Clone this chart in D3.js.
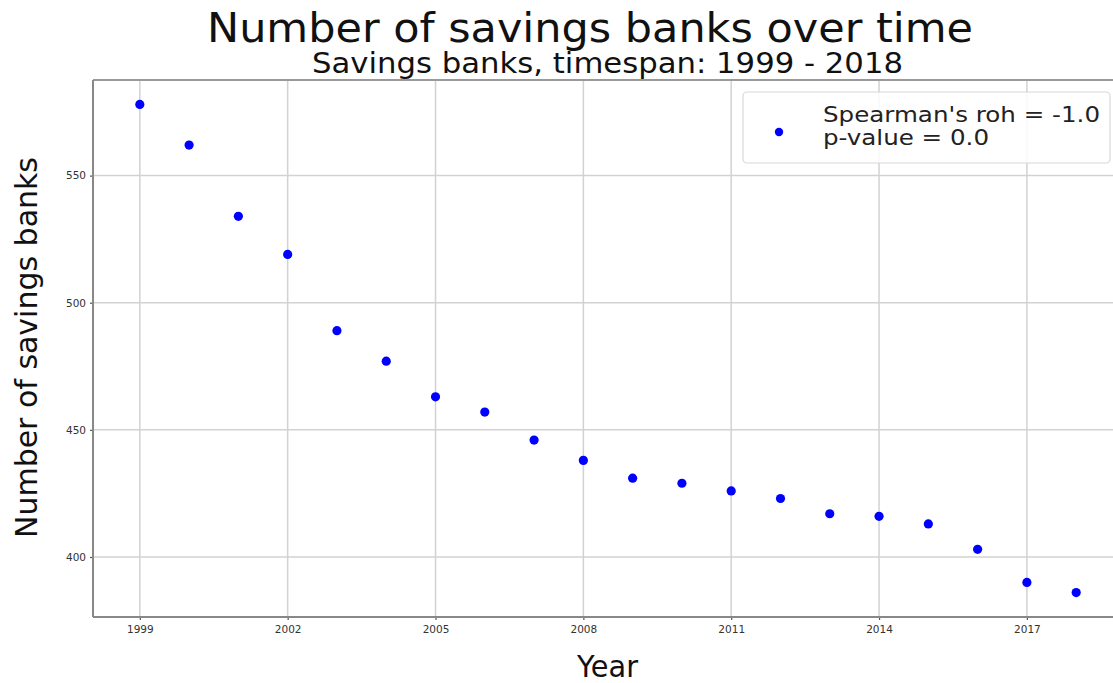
<!DOCTYPE html>
<html>
<head>
<meta charset="utf-8">
<script src="https://cdn.jsdelivr.net/npm/d3@7"></script>
<style>
  html, body { margin: 0; padding: 0; background: #fff; }
  svg { display: block; font-family: "DejaVu Sans", sans-serif; }
</style>
</head>
<body>
<svg id="chart" width="1113" height="683"></svg>
<script>
// Number of savings banks per year
const years = [1999, 2000, 2001, 2002, 2003, 2004, 2005, 2006, 2007, 2008,
               2009, 2010, 2011, 2012, 2013, 2014, 2015, 2016, 2017, 2018];
const banks = [578, 562, 534, 519, 489, 477, 463, 457, 446, 438,
               431, 429, 426, 423, 417, 416, 413, 403, 390, 386];
const xTicks = [1999, 2002, 2005, 2008, 2011, 2014, 2017];
const yTicks = [400, 450, 500, 550];
const legendLines = ["Spearman's roh = -1.0", "p-value = 0.0"];

const svg = d3.select("#chart");

// Plot frame (right edge runs past the canvas)
const plotL = 93, plotR = 1123, plotT = 80, plotB = 617;

// 5% padding around the data range
const xExt = d3.extent(years), yExt = d3.extent(banks);
const xPad = (xExt[1] - xExt[0]) * 0.05, yPad = (yExt[1] - yExt[0]) * 0.05;
const x = d3.scaleLinear().domain([xExt[0] - xPad, xExt[1] + xPad]).range([plotL, plotR]);
const y = d3.scaleLinear().domain([yExt[0] - yPad, yExt[1] + yPad]).range([plotB, plotT]);

// Grid
const grid = svg.append("g");
grid.selectAll("line.gx").data(xTicks).join("line").attr("class", "gx")
  .attr("x1", d => x(d)).attr("x2", d => x(d))
  .attr("y1", plotT).attr("y2", plotB)
  .attr("stroke", "#d2d2d2").attr("stroke-width", 1.5);
grid.selectAll("line.gy").data(yTicks).join("line").attr("class", "gy")
  .attr("x1", plotL).attr("x2", plotR)
  .attr("y1", d => y(d)).attr("y2", d => y(d))
  .attr("stroke", "#d2d2d2").attr("stroke-width", 1.5);

// Axes
const xAxis = svg.append("g").attr("transform", `translate(0,${plotB})`)
  .call(d3.axisBottom(x).tickValues(xTicks).tickFormat(d3.format("d")).tickSize(3).tickPadding(6));
const yAxis = svg.append("g").attr("transform", `translate(${plotL},0)`)
  .call(d3.axisLeft(y).tickValues(yTicks).tickFormat(d3.format("d")).tickSize(3).tickPadding(4));
[xAxis, yAxis].forEach(a => {
  a.select(".domain").remove();
  a.selectAll(".tick line").attr("stroke", "#555").attr("stroke-width", 1.2);
  a.selectAll(".tick text").attr("fill", "#333").attr("font-size", 10.5)
    .attr("font-family", "DejaVu Sans, sans-serif");
});

// Spines: top, left, bottom
svg.append("line").attr("x1", plotL).attr("x2", plotR).attr("y1", plotT).attr("y2", plotT)
  .attr("stroke", "#999").attr("stroke-width", 2);
svg.append("line").attr("x1", plotL).attr("x2", plotL).attr("y1", plotT).attr("y2", plotB)
  .attr("stroke", "#888").attr("stroke-width", 2);
svg.append("line").attr("x1", plotL).attr("x2", plotR).attr("y1", plotB).attr("y2", plotB)
  .attr("stroke", "#888").attr("stroke-width", 2);

// Points
svg.append("g").selectAll("circle").data(years).join("circle")
  .attr("cx", d => x(d)).attr("cy", (d, i) => y(banks[i]))
  .attr("r", 4.6).attr("fill", "#0000ff");

// Titles
svg.append("text").attr("x", 207).attr("y", 42)
  .attr("font-size", 40).attr("fill", "#111")
  .attr("textLength", 766).attr("lengthAdjust", "spacingAndGlyphs")
  .text("Number of savings banks over time");
svg.append("text").attr("x", 312).attr("y", 73)
  .attr("font-size", 28).attr("fill", "#111")
  .attr("textLength", 591).attr("lengthAdjust", "spacingAndGlyphs")
  .text("Savings banks, timespan: 1999 - 2018");

// Axis labels
svg.append("text").attr("x", 577).attr("y", 677)
  .attr("font-size", 30).attr("fill", "#111")
  .attr("textLength", 61).attr("lengthAdjust", "spacingAndGlyphs")
  .text("Year");
svg.append("text")
  .attr("transform", "translate(37,538) rotate(-90)")
  .attr("font-size", 30).attr("fill", "#111")
  .attr("textLength", 381).attr("lengthAdjust", "spacingAndGlyphs")
  .text("Number of savings banks");

// Legend
const lg = svg.append("g");
lg.append("rect").attr("x", 743).attr("y", 92).attr("width", 367).attr("height", 71)
  .attr("rx", 4).attr("fill", "#fff").attr("fill-opacity", 0.85)
  .attr("stroke", "#d8d8d8").attr("stroke-width", 1.2);
lg.append("circle").attr("cx", 779).attr("cy", 132).attr("r", 4.2).attr("fill", "#0000ff");
lg.selectAll("text").data(legendLines).join("text")
  .attr("x", 823).attr("y", (d, i) => 122 + i * 23)
  .attr("font-size", 22).attr("fill", "#222")
  .attr("textLength", (d, i) => i === 0 ? 277 : 166).attr("lengthAdjust", "spacingAndGlyphs")
  .text(d => d);
</script>
</body>
</html>
